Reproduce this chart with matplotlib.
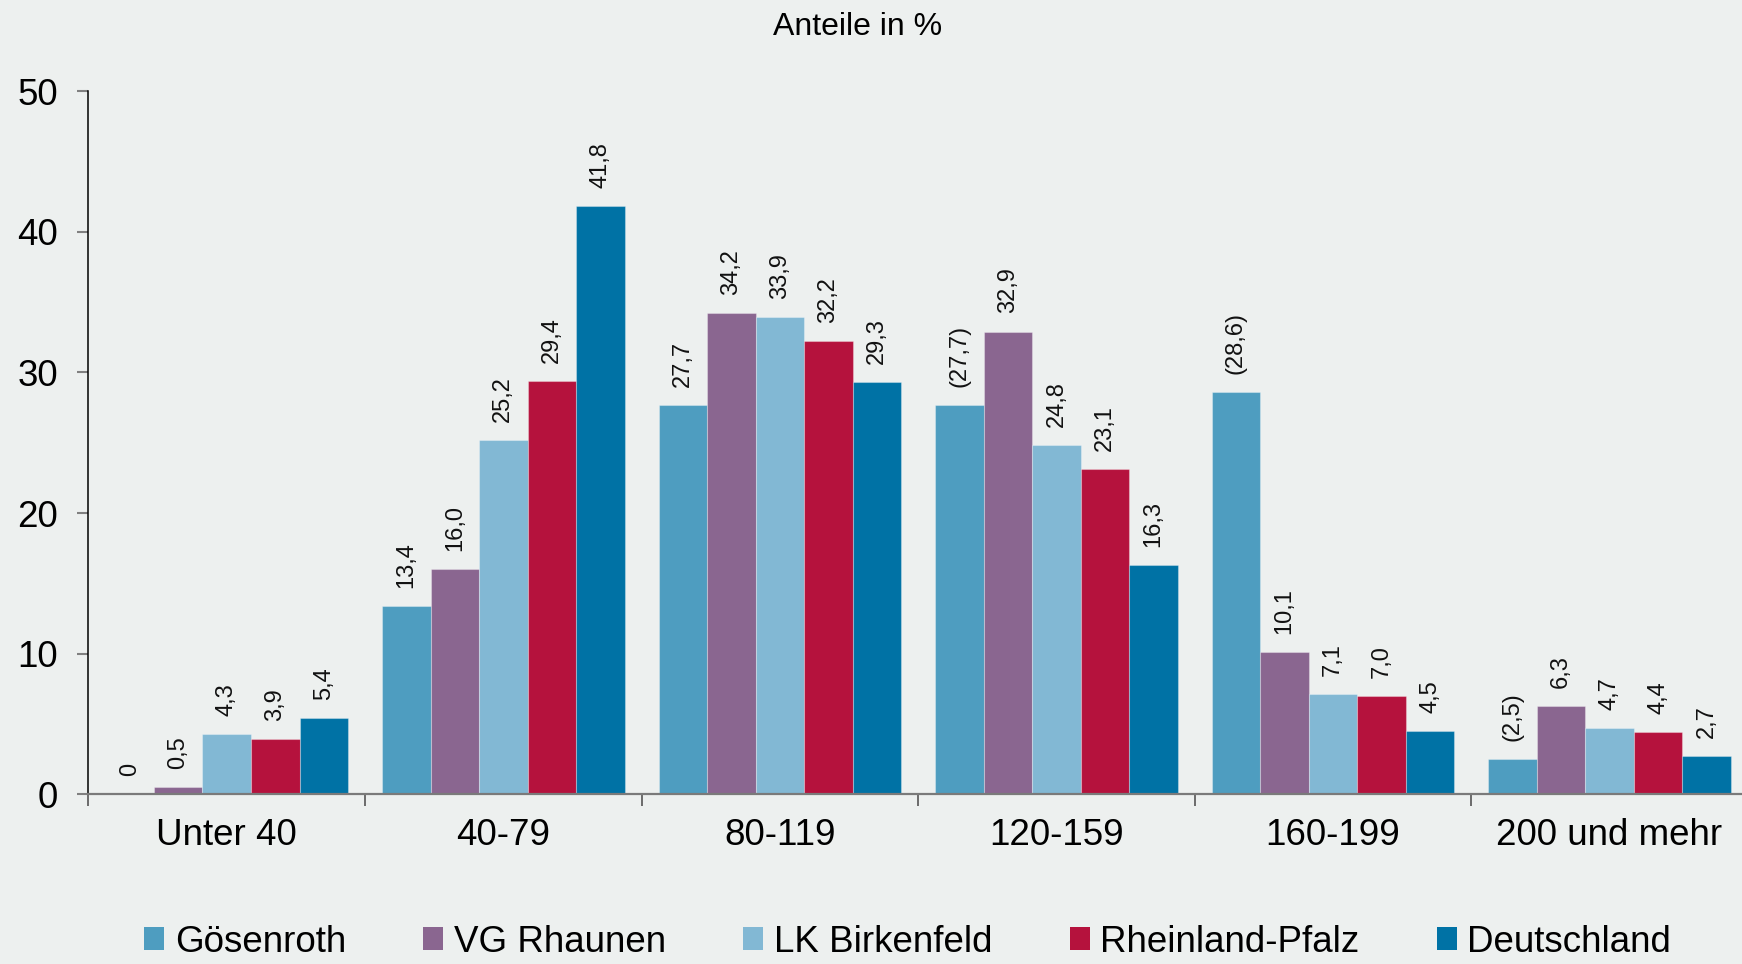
import numpy as np
import matplotlib
matplotlib.use('Agg')
from matplotlib import pyplot as plt
from matplotlib.patches import Patch

plt.rcParams['font.family'] = ['Liberation Sans', 'DejaVu Sans']

categories = ['Unter 40', '40-79', '80-119', '120-159', '160-199', '200 und mehr']
series = ['Gösenroth', 'VG Rhaunen', 'LK Birkenfeld', 'Rheinland-Pfalz', 'Deutschland']
goesenroth = [0, 13.4, 27.7, 27.7, 28.6, 2.5]
vg_rhaunen = [0.5, 16.0, 34.2, 32.9, 10.1, 6.3]
lk_birkenfeld = [4.3, 25.2, 33.9, 24.8, 7.1, 4.7]
rheinland_pfalz = [3.9, 29.4, 32.2, 23.1, 7.0, 4.4]
deutschland = [5.4, 41.8, 29.3, 16.3, 4.5, 2.7]
# values in brackets are statistically uncertain
goesenroth_labels = ['0', '13,4', '27,7', '(27,7)', '(28,6)', '(2,5)']

colors = ['#4e9dc0', '#8a6690', '#82b8d4', '#b5123d', '#0072a5']
bg = '#edf0ef'

values = [goesenroth, vg_rhaunen, lk_birkenfeld, rheinland_pfalz, deutschland]

fig = plt.figure(figsize=(17.42, 9.64), dpi=100, facecolor=bg)
ax = fig.add_axes([0.0508, 0.176, 0.9525, 0.7296], facecolor=bg)

x = np.arange(len(categories))
bw = 0.1755
for i, (name, vals, col) in enumerate(zip(series, values, colors)):
    pos = x + (i - 2) * bw
    ax.bar(pos, vals, width=bw, color=col, edgecolor=(1, 1, 1, 0.3), linewidth=0.8, label=name)
    for j, v in enumerate(vals):
        if i == 0:
            txt = goesenroth_labels[j]
        else:
            txt = f'{v:.1f}'.replace('.', ',')
        ax.annotate(txt, (pos[j], v), xytext=(0, 13), textcoords='offset points',
                    rotation=90, ha='center', va='bottom', fontsize=17, color='#111111')

ax.set_xlim(-0.5, 5.5)
ax.set_ylim(0, 50)
ax.set_yticks(range(0, 51, 10))
ax.set_xticks(x)
ax.set_xticklabels(categories)
ax.set_xticks(np.arange(-0.5, 6, 1), minor=True)
ax.tick_params(axis='x', which='major', length=0, pad=17, labelsize=26.5)
ax.tick_params(axis='x', which='minor', length=8.5, width=1.2, color='#555555', direction='out')
ax.tick_params(axis='y', length=8, width=1.5, color='#808080', pad=14, labelsize=26.5)

for s in ['top', 'right']:
    ax.spines[s].set_visible(False)
ax.spines['left'].set_color('black')
ax.spines['left'].set_linewidth(1.1)
ax.spines['bottom'].set_color('#7a7a7a')
ax.spines['bottom'].set_linewidth(1.6)

fig.text(0.4923, 0.972, 'Anteile in %', ha='center', va='center', fontsize=23)

handles = [Patch(facecolor=c, edgecolor='none') for c in colors]
fig.legend(handles, series, ncol=5, loc='center', bbox_to_anchor=(0.521, 0.0228),
           frameon=False, fontsize=26.5, handlelength=0.55, handleheight=0.55,
           handletextpad=0.28, columnspacing=2.1)

fig.savefig('out.png', dpi=100, facecolor=bg)
